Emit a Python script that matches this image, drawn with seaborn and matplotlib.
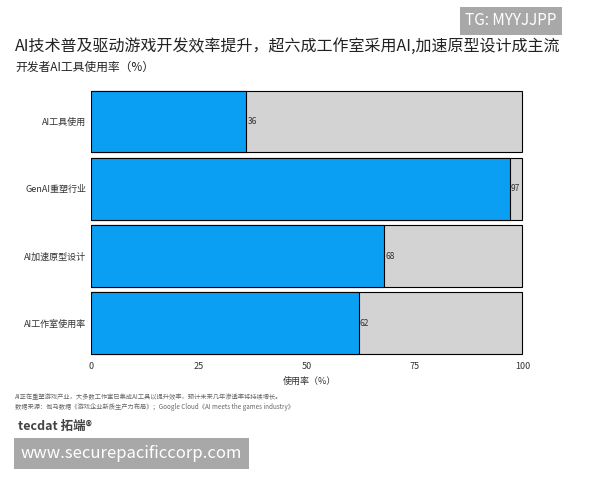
import matplotlib
matplotlib.use("Agg")
import matplotlib.pyplot as plt
import seaborn as sns
import pandas as pd

categories = ["AI工具使用", "GenAI重塑行业", "AI加速原型设计", "AI工作室使用率"]
values = [36, 97, 68, 62]
totals = [100, 100, 100, 100]

sns.set_theme(style="white")
plt.rcParams['font.family'] = ['Noto Sans CJK SC', 'DejaVu Sans']

df = pd.DataFrame({"cat": categories, "val": values, "tot": totals})
fig = plt.figure(figsize=(6, 4.8), dpi=100)
ax = fig.add_axes([0.152, 0.256, 0.726, 0.561])
sns.barplot(data=df, y="cat", x="tot", color="#d3d3d3", edgecolor="black", linewidth=0.8, width=0.92, saturation=1, ax=ax)
sns.barplot(data=df, y="cat", x="val", color="#0a9ff2", edgecolor="black", linewidth=0.8, width=0.92, saturation=1, ax=ax)
for i, v in enumerate(values):
    ax.text(v + 0.3, i, str(v), va="center", ha="left", fontsize=6, color="#333333")
ax.set_xlim(0, 101)
ax.set_xticks([0, 25, 50, 75, 100])
ax.tick_params(axis="both", labelsize=6.5, colors="#333333", length=0)
ax.set_ylabel("")
ax.set_xlabel("使用率（%）", fontsize=6.5, color="#333333")
for s in ax.spines.values():
    s.set_visible(False)

fig.text(0.025, 0.893, "AI技术普及驱动游戏开发效率提升，超六成工作室采用AI,加速原型设计成主流", fontsize=11.5, color="#222222")
fig.text(0.025, 0.853, "开发者AI工具使用率（%）", fontsize=8.5, color="#222222")
fig.text(0.025, 0.168, "AI正在重塑游戏产业，大多数工作室已集成AI工具以提升效率，预计未来几年渗透率将持续增长。", fontsize=4.5, color="#666666")
fig.text(0.025, 0.148, "数据来源：伽马数据《游戏企业新质生产力布局》；Google Cloud《AI meets the games industry》", fontsize=4.5, color="#666666")
fig.text(0.03, 0.105, "tecdat 拓端®", fontsize=9, color="#444444", weight="bold")
fig.text(0.775, 0.947, "TG: MYYJJPP", fontsize=11, color="white",
         bbox=dict(facecolor="#a8a8a8", edgecolor="none", pad=4))
fig.text(0.035, 0.045, "www.securepacificcorp.com", fontsize=12, color="white",
         bbox=dict(facecolor="#a8a8a8", edgecolor="none", pad=5))
fig.savefig("out.png", dpi=100)
